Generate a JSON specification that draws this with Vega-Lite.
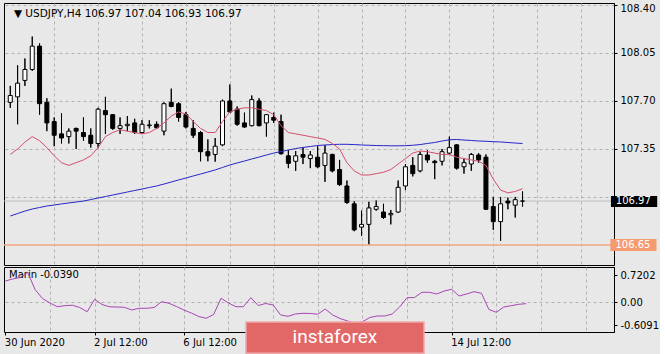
{
  "$schema": "https://vega.github.io/schema/vega-lite/v6.json",
  "background": "#e8e8e8",
  "padding": {"left": 2, "top": 2, "right": 0, "bottom": 0},
  "spacing": 0,
  "config": {
    "view": {"stroke": "#000000", "strokeWidth": 1, "fill": "#e8e8e8"},
    "axis": {"labelFont": "DejaVu Sans", "labelFontSize": 10, "labelColor": "#000000", "tickColor": "#000000", "domainColor": "#000000", "gridColor": "#b2b2b2", "gridDash": [3, 3], "gridWidth": 1, "title": null}
  },
  "datasets": {
    "bars": [
      {"i":0,"o":107.69,"h":107.81,"l":107.65,"c":107.74,"f":107.31,"s":106.861,"m":0.564},
      {"i":1,"o":107.73,"h":107.96,"l":107.53,"c":107.83,"f":107.35,"s":106.879,"m":0.617},
      {"i":2,"o":107.85,"h":108.01,"l":107.81,"c":107.93,"f":107.40,"s":106.897,"m":0.657},
      {"i":3,"o":107.93,"h":108.17,"l":107.92,"c":108.10,"f":107.44,"s":106.912,"m":0.795},
      {"i":4,"o":108.10,"h":108.12,"l":107.60,"c":107.68,"f":107.41,"s":106.923,"m":0.338},
      {"i":5,"o":107.69,"h":107.72,"l":107.48,"c":107.54,"f":107.36,"s":106.934,"m":0.098},
      {"i":6,"o":107.55,"h":107.58,"l":107.37,"c":107.45,"f":107.30,"s":106.941,"m":-0.021},
      {"i":7,"o":107.46,"h":107.61,"l":107.39,"c":107.43,"f":107.25,"s":106.949,"m":-0.120},
      {"i":8,"o":107.44,"h":107.50,"l":107.39,"c":107.48,"f":107.23,"s":106.956,"m":-0.093},
      {"i":9,"o":107.50,"h":107.505,"l":107.35,"c":107.48,"f":107.25,"s":106.963,"m":-0.080},
      {"i":10,"o":107.47,"h":107.58,"l":107.41,"c":107.44,"f":107.27,"s":106.970,"m":-0.141},
      {"i":11,"o":107.45,"h":107.50,"l":107.36,"c":107.39,"f":107.30,"s":106.981,"m":-0.253},
      {"i":12,"o":107.39,"h":107.65,"l":107.36,"c":107.64,"f":107.36,"s":106.992,"m":0.077},
      {"i":13,"o":107.63,"h":107.73,"l":107.46,"c":107.60,"f":107.44,"s":107.003,"m":-0.061},
      {"i":14,"o":107.60,"h":107.605,"l":107.49,"c":107.50,"f":107.47,"s":107.014,"m":-0.122},
      {"i":15,"o":107.50,"h":107.58,"l":107.46,"c":107.52,"f":107.49,"s":107.025,"m":-0.128},
      {"i":16,"o":107.52,"h":107.59,"l":107.48,"c":107.53,"f":107.48,"s":107.036,"m":-0.136},
      {"i":17,"o":107.54,"h":107.57,"l":107.46,"c":107.47,"f":107.47,"s":107.047,"m":-0.207},
      {"i":18,"o":107.47,"h":107.56,"l":107.46,"c":107.53,"f":107.46,"s":107.058,"m":-0.162},
      {"i":19,"o":107.52,"h":107.56,"l":107.50,"c":107.525,"f":107.47,"s":107.069,"m":-0.162},
      {"i":20,"o":107.53,"h":107.55,"l":107.495,"c":107.505,"f":107.50,"s":107.080,"m":-0.141},
      {"i":21,"o":107.48,"h":107.69,"l":107.45,"c":107.68,"f":107.54,"s":107.094,"m":0.013},
      {"i":22,"o":107.69,"h":107.79,"l":107.655,"c":107.66,"f":107.59,"s":107.109,"m":-0.029},
      {"i":23,"o":107.68,"h":107.69,"l":107.55,"c":107.58,"f":107.62,"s":107.124,"m":-0.114},
      {"i":24,"o":107.60,"h":107.62,"l":107.50,"c":107.51,"f":107.605,"s":107.138,"m":-0.207},
      {"i":25,"o":107.50,"h":107.56,"l":107.43,"c":107.45,"f":107.55,"s":107.153,"m":-0.287},
      {"i":26,"o":107.47,"h":107.48,"l":107.26,"c":107.33,"f":107.50,"s":107.167,"m":-0.380},
      {"i":27,"o":107.33,"h":107.42,"l":107.26,"c":107.30,"f":107.47,"s":107.182,"m":-0.428},
      {"i":28,"o":107.31,"h":107.43,"l":107.257,"c":107.37,"f":107.47,"s":107.197,"m":-0.327},
      {"i":29,"o":107.38,"h":107.71,"l":107.37,"c":107.70,"f":107.55,"s":107.215,"m":0.104},
      {"i":30,"o":107.70,"h":107.82,"l":107.615,"c":107.62,"f":107.62,"s":107.233,"m":-0.021},
      {"i":31,"o":107.64,"h":107.66,"l":107.52,"c":107.53,"f":107.64,"s":107.248,"m":-0.120},
      {"i":32,"o":107.54,"h":107.615,"l":107.505,"c":107.51,"f":107.65,"s":107.262,"m":-0.120},
      {"i":33,"o":107.52,"h":107.74,"l":107.515,"c":107.71,"f":107.65,"s":107.277,"m":0.120},
      {"i":34,"o":107.70,"h":107.72,"l":107.515,"c":107.52,"f":107.64,"s":107.291,"m":-0.088},
      {"i":35,"o":107.54,"h":107.605,"l":107.44,"c":107.60,"f":107.63,"s":107.306,"m":-0.035},
      {"i":36,"o":107.58,"h":107.615,"l":107.54,"c":107.56,"f":107.60,"s":107.320,"m":-0.074},
      {"i":37,"o":107.55,"h":107.60,"l":107.31,"c":107.315,"f":107.52,"s":107.331,"m":-0.340},
      {"i":38,"o":107.30,"h":107.34,"l":107.21,"c":107.245,"f":107.47,"s":107.342,"m":-0.375},
      {"i":39,"o":107.26,"h":107.335,"l":107.19,"c":107.30,"f":107.46,"s":107.353,"m":-0.314},
      {"i":40,"o":107.31,"h":107.36,"l":107.24,"c":107.29,"f":107.45,"s":107.361,"m":-0.295},
      {"i":41,"o":107.28,"h":107.335,"l":107.21,"c":107.306,"f":107.44,"s":107.368,"m":-0.300},
      {"i":42,"o":107.29,"h":107.37,"l":107.21,"c":107.22,"f":107.43,"s":107.375,"m":-0.319},
      {"i":43,"o":107.23,"h":107.377,"l":107.11,"c":107.32,"f":107.42,"s":107.379,"m":-0.181},
      {"i":44,"o":107.31,"h":107.315,"l":107.18,"c":107.19,"f":107.39,"s":107.382,"m":-0.340},
      {"i":45,"o":107.20,"h":107.27,"l":107.08,"c":107.09,"f":107.35,"s":107.384,"m":-0.434},
      {"i":46,"o":107.08,"h":107.12,"l":106.95,"c":106.96,"f":107.25,"s":107.384,"m":-0.500},
      {"i":47,"o":106.95,"h":106.97,"l":106.75,"c":106.76,"f":107.19,"s":107.382,"m":-0.561},
      {"i":48,"o":106.78,"h":106.90,"l":106.715,"c":106.80,"f":107.16,"s":107.379,"m":-0.519},
      {"i":49,"o":106.80,"h":106.965,"l":106.655,"c":106.92,"f":107.16,"s":107.377,"m":-0.407},
      {"i":50,"o":106.91,"h":106.975,"l":106.90,"c":106.93,"f":107.17,"s":107.375,"m":-0.367},
      {"i":51,"o":106.89,"h":106.95,"l":106.84,"c":106.85,"f":107.18,"s":107.374,"m":-0.367},
      {"i":52,"o":106.87,"h":106.905,"l":106.80,"c":106.88,"f":107.20,"s":107.373,"m":-0.314},
      {"i":53,"o":106.89,"h":107.12,"l":106.885,"c":107.07,"f":107.24,"s":107.373,"m":-0.128},
      {"i":54,"o":107.08,"h":107.24,"l":107.05,"c":107.22,"f":107.28,"s":107.374,"m":0.120},
      {"i":55,"o":107.23,"h":107.29,"l":107.15,"c":107.17,"f":107.32,"s":107.377,"m":0.125},
      {"i":56,"o":107.19,"h":107.33,"l":107.18,"c":107.31,"f":107.335,"s":107.382,"m":0.263},
      {"i":57,"o":107.306,"h":107.34,"l":107.25,"c":107.27,"f":107.33,"s":107.390,"m":0.263},
      {"i":58,"o":107.26,"h":107.27,"l":107.13,"c":107.25,"f":107.32,"s":107.397,"m":0.218},
      {"i":59,"o":107.26,"h":107.35,"l":107.23,"c":107.33,"f":107.31,"s":107.408,"m":0.298},
      {"i":60,"o":107.32,"h":107.44,"l":107.31,"c":107.36,"f":107.31,"s":107.417,"m":0.343},
      {"i":61,"o":107.38,"h":107.385,"l":107.20,"c":107.21,"f":107.29,"s":107.419,"m":0.165},
      {"i":62,"o":107.22,"h":107.28,"l":107.17,"c":107.25,"f":107.28,"s":107.415,"m":0.218},
      {"i":63,"o":107.24,"h":107.32,"l":107.19,"c":107.31,"f":107.27,"s":107.412,"m":0.279},
      {"i":64,"o":107.306,"h":107.32,"l":107.25,"c":107.27,"f":107.26,"s":107.408,"m":0.237},
      {"i":65,"o":107.29,"h":107.31,"l":106.905,"c":106.91,"f":107.23,"s":107.406,"m":-0.194},
      {"i":66,"o":106.93,"h":107.00,"l":106.76,"c":106.82,"f":107.13,"s":107.403,"m":-0.269},
      {"i":67,"o":106.82,"h":107.00,"l":106.68,"c":106.95,"f":107.05,"s":107.401,"m":-0.128},
      {"i":68,"o":106.97,"h":106.995,"l":106.91,"c":106.956,"f":107.03,"s":107.397,"m":-0.093},
      {"i":69,"o":106.94,"h":107.00,"l":106.85,"c":106.98,"f":107.04,"s":107.393,"m":-0.056},
      {"i":70,"o":106.97,"h":107.04,"l":106.93,"c":106.97,"f":107.06,"s":107.390,"m":-0.039}
    ],
    "levels": [
      {"price": 106.97, "kind": "bid"},
      {"price": 106.65, "kind": "level"}
    ]
  },
  "vconcat": [
    {
      "width": 610,
      "height": 262,
      "layer": [
        {
          "data": {"name": "bars"},
          "mark": {"type": "rule", "color": "#000000", "strokeWidth": 1},
          "encoding": {
            "x": {"field": "i", "type": "quantitative", "scale": {"domain": [-0.175, 81.815], "nice": false, "zero": false},
              "axis": {"values": [6, 12, 18, 24, 30, 36, 42, 48, 54, 60, 66, 72, 78], "tickCount": 30, "grid": true, "labels": false, "ticks": false, "domain": false, "title": null}},
            "y": {"field": "l", "type": "quantitative", "scale": {"domain": [106.5036, 108.4146], "nice": false, "zero": false},
              "axis": {"orient": "right", "values": [108.4, 108.05, 107.7, 107.35, 107.0], "tickCount": 20,
                "labelExpr": "datum.value > 108.3 ? '108.40' : datum.value > 108 ? '108.05' : datum.value > 107.6 ? '107.70' : datum.value > 107.2 ? '107.35' : ''",
                "labelBaseline": {"condition": {"test": "datum.value > 108.3", "value": "top"}, "value": "middle"},
                "labelOffset": {"condition": {"test": "datum.value > 108.3", "value": -2}, "value": 0},
                "labelOverlap": false, "grid": true, "tickSize": 3, "labelPadding": 3, "domain": true, "title": null}},
            "y2": {"field": "h"}
          }
        },
        {
          "data": {"name": "levels"},
          "transform": [{"filter": "datum.kind == 'bid'"}],
          "mark": {"type": "rule", "color": "#bcbcbc", "strokeWidth": 1},
          "encoding": {
            "y": {"field": "price", "type": "quantitative", "scale": {"domain": [106.5036, 108.4146], "nice": false, "zero": false}}
          }
        },
        {
          "data": {"name": "levels"},
          "transform": [{"filter": "datum.kind == 'level'"}],
          "mark": {"type": "rule", "color": "#f5a481", "strokeWidth": 1.6},
          "encoding": {
            "y": {"field": "price", "type": "quantitative", "scale": {"domain": [106.5036, 108.4146], "nice": false, "zero": false}}
          }
        },
        {
          "data": {"name": "bars"},
          "mark": {"type": "rule", "color": "#000000", "strokeWidth": 1},
          "encoding": {
            "x": {"field": "i", "type": "quantitative", "scale": {"domain": [-0.175, 81.815], "nice": false, "zero": false}},
            "y": {"field": "l", "type": "quantitative", "scale": {"domain": [106.5036, 108.4146], "nice": false, "zero": false}},
            "y2": {"field": "h"}
          }
        },
        {
          "data": {"name": "bars"},
          "mark": {"type": "bar", "orient": "vertical", "width": 4, "stroke": "#000000", "strokeWidth": 1},
          "encoding": {
            "x": {"field": "i", "type": "quantitative", "scale": {"domain": [-0.175, 81.815], "nice": false, "zero": false}},
            "y": {"field": "o", "type": "quantitative", "scale": {"domain": [106.5036, 108.4146], "nice": false, "zero": false}},
            "y2": {"field": "c"},
            "fill": {"condition": {"test": "datum.c >= datum.o", "value": "#ffffff"}, "value": "#000000"}
          }
        },
        {
          "data": {"name": "bars"},
          "mark": {"type": "line", "color": "#2626c9", "strokeWidth": 1},
          "encoding": {
            "x": {"field": "i", "type": "quantitative", "scale": {"domain": [-0.175, 81.815], "nice": false, "zero": false}},
            "y": {"field": "s", "type": "quantitative", "scale": {"domain": [106.5036, 108.4146], "nice": false, "zero": false}}
          }
        },
        {
          "data": {"name": "bars"},
          "mark": {"type": "line", "color": "#d64f6c", "strokeWidth": 1},
          "encoding": {
            "x": {"field": "i", "type": "quantitative", "scale": {"domain": [-0.175, 81.815], "nice": false, "zero": false}},
            "y": {"field": "f", "type": "quantitative", "scale": {"domain": [106.5036, 108.4146], "nice": false, "zero": false}}
          }
        },
        {
          "data": {"values": [{}]},
          "mark": {"type": "text", "align": "left", "baseline": "middle", "font": "DejaVu Sans", "fontSize": 10.5, "color": "#000000"},
          "encoding": {
            "x": {"datum": 0.5, "type": "quantitative", "scale": {"domain": [-0.175, 81.815], "nice": false, "zero": false}},
            "y": {"datum": 108.334, "type": "quantitative", "scale": {"domain": [106.5036, 108.4146], "nice": false, "zero": false}},
            "text": {"value": "▼  USDJPY,H4  106.97 107.04 106.93 106.97"}
          }
        },
        {
          "data": {"values": [{}]},
          "mark": {"type": "rect", "color": "#000000"},
          "encoding": {
            "x": {"datum": 82.08, "type": "quantitative", "scale": {"domain": [-0.175, 81.815], "nice": false, "zero": false}},
            "x2": {"datum": 88.4},
            "y": {"datum": 107.007, "type": "quantitative", "scale": {"domain": [106.5036, 108.4146], "nice": false, "zero": false}},
            "y2": {"datum": 106.927}
          }
        },
        {
          "data": {"values": [{}]},
          "mark": {"type": "text", "align": "left", "baseline": "middle", "font": "DejaVu Sans", "fontSize": 10, "color": "#ffffff"},
          "encoding": {
            "x": {"datum": 82.75, "type": "quantitative", "scale": {"domain": [-0.175, 81.815], "nice": false, "zero": false}},
            "y": {"datum": 106.967, "type": "quantitative", "scale": {"domain": [106.5036, 108.4146], "nice": false, "zero": false}},
            "text": {"value": "106.97"}
          }
        },
        {
          "data": {"values": [{}]},
          "mark": {"type": "rect", "color": "#f49c70"},
          "encoding": {
            "x": {"datum": 82.0, "type": "quantitative", "scale": {"domain": [-0.175, 81.815], "nice": false, "zero": false}},
            "x2": {"datum": 88.3},
            "y": {"datum": 106.693, "type": "quantitative", "scale": {"domain": [106.5036, 108.4146], "nice": false, "zero": false}},
            "y2": {"datum": 106.606}
          }
        },
        {
          "data": {"values": [{}]},
          "mark": {"type": "text", "align": "left", "baseline": "middle", "font": "DejaVu Sans", "fontSize": 10, "color": "#ffffff"},
          "encoding": {
            "x": {"datum": 82.7, "type": "quantitative", "scale": {"domain": [-0.175, 81.815], "nice": false, "zero": false}},
            "y": {"datum": 106.65, "type": "quantitative", "scale": {"domain": [106.5036, 108.4146], "nice": false, "zero": false}},
            "text": {"value": "106.65"}
          }
        }
      ]
    },
    {
      "width": 610,
      "height": 65,
      "layer": [
        {
          "data": {"name": "bars"},
          "mark": {"type": "line", "color": "#a846b4", "strokeWidth": 1, "opacity": 0},
          "encoding": {
            "x": {"field": "i", "type": "quantitative", "scale": {"domain": [-0.175, 81.815], "nice": false, "zero": false},
              "axis": {"values": [0, 6, 12, 18, 24, 30, 36, 42, 48, 54, 60, 66, 72, 78], "tickCount": 30, "grid": true,
                "gridOpacity": {"condition": {"test": "datum.value == 0", "value": 0}, "value": 1},
                "labelExpr": "datum.value == 0 ? '30 Jun 2020' : datum.value == 12 ? '2 Jul 12:00' : datum.value == 24 ? '6 Jul 12:00' : datum.value == 60 ? '14 Jul 12:00' : ''",
                "labelAlign": "left", "labelOffset": -1, "labelPadding": 2, "labelOverlap": false, "labelFlush": false,
                "tickSize": 3,
                "tickOpacity": {"condition": {"test": "datum.value % 12 == 0 && datum.value <= 60", "value": 1}, "value": 0},
                "domain": false, "title": null}},
            "y": {"field": "m", "type": "quantitative", "scale": {"domain": [-0.7926, 0.936], "nice": false, "zero": false},
              "axis": {"orient": "right", "values": [0.7202, 0, -0.6091], "tickCount": 10,
                "labelExpr": "datum.value > 0.5 ? '0.7202' : datum.value < -0.5 ? '-0.6091' : '0.00'",
                "labelOverlap": false, "labelBound": false,
                "grid": true, "gridOpacity": {"condition": {"test": "abs(datum.value) < 0.1", "value": 1}, "value": 0},
                "tickSize": 3, "labelPadding": 3, "domain": true, "title": null}}
          }
        },
        {
          "data": {"values": [{}]},
          "mark": {"type": "text", "align": "left", "baseline": "middle", "font": "DejaVu Sans", "fontSize": 10, "color": "#000000"},
          "encoding": {
            "x": {"datum": 0.5, "type": "quantitative", "scale": {"domain": [-0.175, 81.815], "nice": false, "zero": false}},
            "y": {"datum": 0.723, "type": "quantitative", "scale": {"domain": [-0.7926, 0.936], "nice": false, "zero": false}},
            "text": {"value": "Marin -0.0390"}
          }
        },
        {
          "data": {"name": "bars"},
          "mark": {"type": "line", "color": "#a846b4", "strokeWidth": 1},
          "encoding": {
            "x": {"field": "i", "type": "quantitative", "scale": {"domain": [-0.175, 81.815], "nice": false, "zero": false}},
            "y": {"field": "m", "type": "quantitative", "scale": {"domain": [-0.7926, 0.936], "nice": false, "zero": false}}
          }
        },
        {
          "data": {"values": [{}]},
          "mark": {"type": "rect", "fill": "#e26767", "stroke": "#f2abab", "strokeWidth": 1.5},
          "encoding": {
            "x": {"datum": 32.35, "type": "quantitative", "scale": {"domain": [-0.175, 81.815], "nice": false, "zero": false}},
            "x2": {"datum": 56.28},
            "y": {"datum": -0.527, "type": "quantitative", "scale": {"domain": [-0.7926, 0.936], "nice": false, "zero": false}},
            "y2": {"datum": -1.36}
          }
        },
        {
          "data": {"values": [{}]},
          "mark": {"type": "text", "align": "center", "baseline": "middle", "font": "Roboto", "fontSize": 19, "color": "#ffffff"},
          "encoding": {
            "x": {"datum": 44.3, "type": "quantitative", "scale": {"domain": [-0.175, 81.815], "nice": false, "zero": false}},
            "y": {"datum": -0.93, "type": "quantitative", "scale": {"domain": [-0.7926, 0.936], "nice": false, "zero": false}},
            "text": {"value": "instaforex"}
          }
        }
      ]
    }
  ]
}
